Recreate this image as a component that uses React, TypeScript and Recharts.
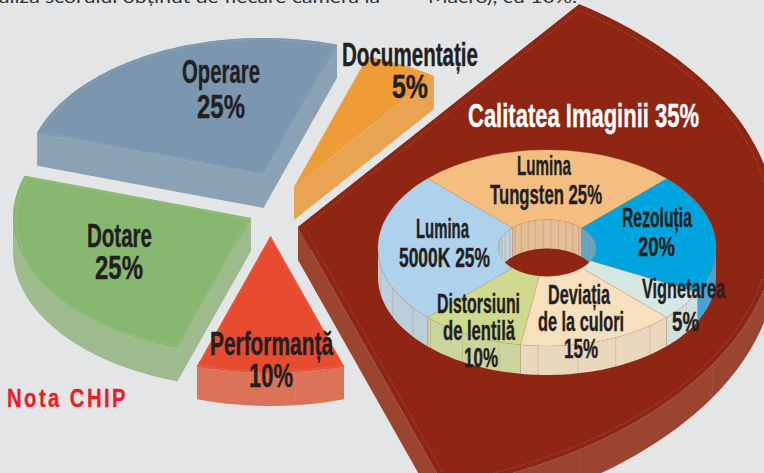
import React from "react";
import { PieChart, Pie } from "recharts";

// ---------- data ----------
const outerNames = ["Calitatea Imaginii", "Performanță", "Dotare", "Operare", "Documentație"];
const outerValues = [35, 10, 25, 25, 5];
const innerNames = ["Lumina Tungsten", "Rezoluția", "Vignetarea", "Deviația de la culori", "Distorsiuni de lentilă", "Lumina 5000K"];
const innerValues = [25, 20, 5, 15, 10, 25];

const outerLabelLines = [
  ["Calitatea Imaginii 35%"],
  ["Performanță", "10%"],
  ["Dotare", "25%"],
  ["Operare", "25%"],
  ["Documentație", "5%"],
];
const innerLabelLines = [
  ["Lumina", "Tungsten 25%"],
  ["Rezoluția", "20%"],
  ["Vignetarea", "5%"],
  ["Deviația", "de la culori", "15%"],
  ["Distorsiuni", "de lentilă", "10%"],
  ["Lumina", "5000K 25%"],
];
const pageLeft = "aliza scorului obținut de fiecare cameră la";
const pageRight = "Macro), cu 10%.";
const noteText = "Nota CHIP";

// ---------- styling / layout ----------
const W = 764;
const H = 473;
const BG = "#E4E5E7";
const INK = "#231F20";
const NARROW = "'Liberation Sans Narrow', 'Liberation Sans', sans-serif";
const outerFills = ["#8F2513", "#E84B30", "#88B770", "#7A97AF", "#EE9C38"];
const outerWalls = ["#9B4530", "#DB7358", "#9DBB8D", "#8BA2B5", "#E8A450"];
const innerFills = ["#F4BE80", "#00A5E0", "#D5E8E4", "#F6E0BE", "#CFDA8E", "#AED2EC"];
const innerOuterWalls = ["#E2BD95", "#3FA7D8", "#CFE0DE", "#E9D8BE", "#CAD49C", "#BCCDDC"];
const innerHoleWalls = ["#E2BD95", "#5AABD2", "#CFE0DE", "#E9D8BE", "#CAD49C", "#BFD3DF"];
const outerApex = [[298, 227], [270.5, 236], [251, 218], [263.5, 175], [294, 187]];
const outerScale = [2.01, 1, 1, 1, 1];
const OUTER_R = 238;
const OUTER_SQUASH = 137 / 238;
const OUTER_DEPTH = 33;
const INNER_CX = 547;
const INNER_CY = 248;
const INNER_R = 169;
const INNER_HOLE = 49;
const INNER_SQUASH = 98 / 169;
const INNER_DEPTH = 29;

// [centre x, baseline y, width] per text line
const outerLabelPos = [
  [[583.5, 127, 231]],
  [[271.5, 355, 123], [271, 387, 44]],
  [[119.5, 247, 65], [119, 279, 48]],
  [[221, 83, 78], [221, 118, 48]],
  [[410, 66, 136], [410, 98, 36]],
];
const innerLabelPos = [
  [[544, 175, 54], [546, 204, 112]],
  [[657, 227, 70], [656.5, 256, 37]],
  [[683.5, 298, 83], [685.5, 331, 27]],
  [[579, 304, 62], [581, 331, 86], [581, 358, 34]],
  [[478.5, 313, 83], [479, 340, 72], [481, 367, 34]],
  [[442.5, 238, 53], [444.5, 267, 91]],
];

const outerData = outerNames.map((name, i) => ({ name, value: outerValues[i], fill: outerFills[i] }));
const innerData = innerNames.map((name, i) => ({ name, value: innerValues[i], fill: innerFills[i] }));

// ---------- geometry ----------
type P = [number, number];
const pt = (cx: number, cy: number, rx: number, ry: number, deg: number): P => {
  const a = (deg * Math.PI) / 180;
  return [cx + rx * Math.cos(a), cy - ry * Math.sin(a)];
};
const sampleAngles = (a0: number, a1: number) => {
  const n = Math.max(2, Math.ceil(Math.abs(a1 - a0) / 1.5));
  const out: number[] = [];
  for (let k = 0; k <= n; k++) out.push(a0 + ((a1 - a0) * k) / n);
  return out;
};
const arc = (cx: number, cy: number, rx: number, ry: number, a0: number, a1: number): P[] =>
  sampleAngles(a0, a1).map((a) => pt(cx, cy, rx, ry, a));
const poly = (pts: P[]) => "M" + pts.map((p) => `${p[0].toFixed(2)} ${p[1].toFixed(2)}`).join("L") + "Z";
const strip = (pts: P[], depth: number) => {
  let d = "";
  for (let i = 0; i + 1 < pts.length; i++) {
    const [a, b] = [pts[i], pts[i + 1]];
    // keep all quads in one winding so a single nonzero path is a union
    const [l, r] = a[0] <= b[0] ? [a, b] : [b, a];
    d += poly([l, r, [r[0], r[1] + depth], [l[0], l[1] + depth]]);
  }
  return d;
};

// ---------- outer pie slice ----------
const OuterSlice = (props: any) => {
  const i = outerNames.indexOf(props.name);
  const [ax, ay] = outerApex[i];
  const rx = props.outerRadius * outerScale[i];
  const ry = rx * OUTER_SQUASH;
  const rim = arc(ax, ay, rx, ry, props.startAngle, props.endAngle);
  const outline: P[] = [[ax, ay], ...rim, [ax, ay]];
  const c = rim[Math.floor(rim.length / 2)];
  const mx = ax + (c[0] - ax) * 0.55;
  const my = ay + (c[1] - ay) * 0.55;
  const inset = outline.map((p) => [mx + (p[0] - mx) * 0.975, my + (p[1] - my) * 0.975] as P);
  const stripes = rim.filter((_, k) => k % 16 === 8);
  return (
    <g>
      <path d={strip(outline, OUTER_DEPTH)} fill={outerWalls[i]} />
      {stripes.map((p, k) => (
        <line key={k} x1={p[0]} y1={p[1]} x2={p[0]} y2={p[1] + OUTER_DEPTH} stroke="#FFFFFF" strokeOpacity={0.06} strokeWidth={1} />
      ))}
      <path d={poly(outline)} fill={outerFills[i]} />
      <path d={poly(inset)} fill="none" stroke="#FFFFFF" strokeOpacity={0.22} strokeWidth={0.6} strokeDasharray="3 1" />
    </g>
  );
};

// ---------- donut ----------
const DonutWall = (props: any) => {
  const i = innerNames.indexOf(props.name);
  const { cx, cy, innerRadius: r0, outerRadius: r1, startAngle: a0, endAngle: a1 } = props;
  // only the parts of each wall that face the viewer
  const out: P[] = [];
  const hole: P[] = [];
  for (const a of sampleAngles(a0, a1)) {
    const s = Math.sin((a * Math.PI) / 180);
    if (s <= 0.001) out.push(pt(cx, cy, r1, r1 * INNER_SQUASH, a));
    if (s >= -0.001) hole.push(pt(cx, cy, r0, r0 * INNER_SQUASH, a));
  }
  const outStripes = out.filter((_, k) => k % 9 === 5);
  const holeStripes = hole.filter((_, k) => k % 6 === 3);
  return (
    <g>
      <path d={strip(hole, INNER_DEPTH)} fill={innerHoleWalls[i]} />
      {holeStripes.map((p, k) => (
        <line key={k} x1={p[0]} y1={p[1]} x2={p[0]} y2={p[1] + INNER_DEPTH} stroke="#B9795A" strokeOpacity={0.5} strokeWidth={0.7} />
      ))}
      <path d={strip(out, INNER_DEPTH)} fill={innerOuterWalls[i]} />
      {outStripes.map((p, k) => (
        <line key={k} x1={p[0]} y1={p[1]} x2={p[0]} y2={p[1] + INNER_DEPTH} stroke="#B9795A" strokeOpacity={0.4} strokeWidth={0.7} />
      ))}
    </g>
  );
};

const DonutTop = (props: any) => {
  const i = innerNames.indexOf(props.name);
  const { cx, cy, innerRadius: r0, outerRadius: r1, startAngle: a0, endAngle: a1 } = props;
  const outer = arc(cx, cy, r1, r1 * INNER_SQUASH, a0, a1);
  const inner = arc(cx, cy, r0, r0 * INNER_SQUASH, a1, a0);
  return <path d={poly([...outer, ...inner])} fill={innerFills[i]} stroke="#C9A37F" strokeOpacity={0.55} strokeWidth={0.5} />;
};

// ---------- labels ----------
const Lines = ({ lines, pos, fill, size }: any) => (
  <g>
    {lines.map((t: string, k: number) => (
      <text
        key={k}
        x={pos[k][0]}
        y={pos[k][1]}
        textAnchor="middle"
        fontFamily={NARROW}
        fontWeight={700}
        fontSize={size}
        fill={fill}
        stroke={fill}
        strokeWidth={0.4}
        textLength={pos[k][2]}
        lengthAdjust="spacingAndGlyphs"
      >
        {t}
      </text>
    ))}
  </g>
);
const outerLabel = (props: any) => {
  const i = outerNames.indexOf(props.name);
  return <Lines lines={outerLabelLines[i]} pos={outerLabelPos[i]} fill={i === 0 ? "#FFFFFF" : INK} size={33} />;
};
const innerLabel = (props: any) => {
  const i = innerNames.indexOf(props.name);
  return <Lines lines={innerLabelLines[i]} pos={innerLabelPos[i]} fill={INK} size={27} />;
};

export default function App() {
  return (
    <div style={{ position: "absolute", left: 0, top: 0, width: W, height: H, background: BG, overflow: "hidden" }}>
      <PieChart width={W} height={H} margin={{ top: 0, right: 0, bottom: 0, left: 0 }} accessibilityLayer={false}>
        <Pie
          data={outerData}
          dataKey="value"
          nameKey="name"
          cx={270}
          cy={210}
          innerRadius={0}
          outerRadius={OUTER_R}
          startAngle={54}
          endAngle={-306}
          stroke="none"
          isAnimationActive={false}
          shape={OuterSlice}
          label={outerLabel}
          labelLine={false}
        />
        <Pie
          data={innerData}
          dataKey="value"
          nameKey="name"
          cx={INNER_CX}
          cy={INNER_CY}
          innerRadius={INNER_HOLE}
          outerRadius={INNER_R}
          startAngle={135}
          endAngle={-225}
          stroke="none"
          isAnimationActive={false}
          shape={DonutWall}
          label={false}
          labelLine={false}
        />
        <Pie
          data={innerData}
          dataKey="value"
          nameKey="name"
          cx={INNER_CX}
          cy={INNER_CY}
          innerRadius={INNER_HOLE}
          outerRadius={INNER_R}
          startAngle={135}
          endAngle={-225}
          stroke="none"
          isAnimationActive={false}
          shape={DonutTop}
          label={innerLabel}
          labelLine={false}
        />
        <text x={-1} y={3} fontFamily="Lato, sans-serif" fontSize={18} fill="#333333" textLength={381} lengthAdjust="spacingAndGlyphs">
          {pageLeft}
        </text>
        <text x={428} y={3} fontFamily="Lato, sans-serif" fontSize={18} fill="#333333" textLength={149} lengthAdjust="spacingAndGlyphs">
          {pageRight}
        </text>
        <text x={7} y={407} fontFamily={NARROW} fontWeight={700} fontSize={25} letterSpacing={3} fill="#E8202A" stroke="#E8202A" strokeWidth={0.3} textLength={121} lengthAdjust="spacingAndGlyphs">
          {noteText}
        </text>
      </PieChart>
    </div>
  );
}
